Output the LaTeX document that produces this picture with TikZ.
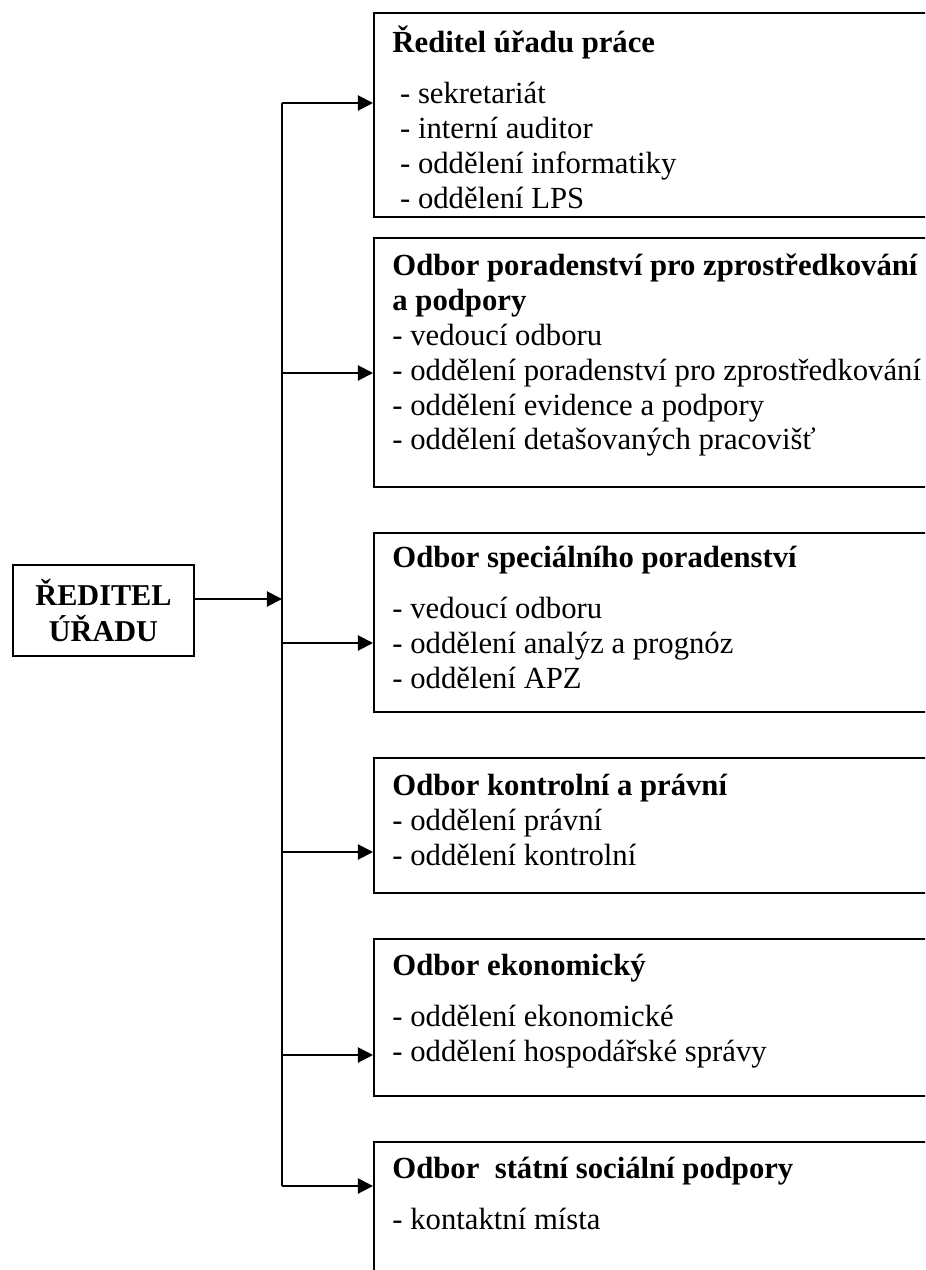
\documentclass[tikz,border=0pt]{standalone}
\usepackage{fontspec}
\setmainfont{Liberation Serif}
\usetikzlibrary{arrows.meta, positioning}

\newcommand{\pxu}{0.43pt}

\tikzset{
    frame/.style={
        rectangle, draw=black, line width=0.85pt, inner sep=0pt, minimum width=600*\pxu, anchor=north west
    },
    boxtext/.style={
        anchor=north west, align=left, inner sep=0pt, font=\fontsize{13.2pt}{15pt}\selectfont
    },
    arrow/.style={
        line width=0.85pt, ->
    },
    trunk/.style={
        line width=0.85pt
    }
}

\begin{document}
\begin{tikzpicture}[x=\pxu, y=-\pxu, >={Triangle[length=6.5pt, width=6.5pt]}]

    \clip (0,0) rectangle (925,1270);

    % Director (left)
    \node[frame, minimum width=181*\pxu, minimum height=91*\pxu, align=center, font=\bfseries\fontsize{13pt}{15.5pt}\selectfont] (reditel) at (12,564) {ŘEDITEL\\ÚŘADU};

    % Boxes of the departments
    \node[frame, minimum height=204*\pxu] (urad) at (373,12) {};
    \node[frame, minimum height=249*\pxu] (zprostr) at (373,237) {};
    \node[frame, minimum height=179*\pxu] (special) at (373,532) {};
    \node[frame, minimum height=135*\pxu] (kontrol) at (373,757) {};
    \node[frame, minimum height=157*\pxu] (ekonom) at (373,938) {};
    \node[frame, minimum height=220*\pxu] (davky) at (373,1141) {};

    % Texts
    \node[boxtext] (uradtext) at (392,25.6) {\textbf{\strut Ředitel úřadu práce}\\[7pt]
        \ - sekretariát\\ \ - interní auditor\\ \ - oddělení informatiky\\ \ - oddělení LPS};
    \node[boxtext] (zprostrtext) at (392,250.6) {\textbf{\strut Odbor poradenství pro zprostředkování}\\\textbf{a podpory}\\
        - vedoucí odboru\\ - oddělení poradenství pro zprostředkování\\ - oddělení evidence a podpory\\ - oddělení detašovaných pracovišť};
    \node[boxtext] (specialtext) at (392,542.6) {\textbf{\strut Odbor speciálního poradenství}\\[7pt]
        - vedoucí odboru\\ - oddělení analýz a prognóz\\ - oddělení APZ};
    \node[boxtext] (kontroltext) at (392,770.6) {\textbf{\strut Odbor kontrolní a právní}\\
        - oddělení právní\\ - oddělení kontrolní};
    \node[boxtext] (ekonomtext) at (392,950.6) {\textbf{\strut Odbor ekonomický}\\[7pt]
        - oddělení ekonomické\\ - oddělení hospodářské správy};
    \node[boxtext] (davkytext) at (392,1153.6) {\textbf{\strut Odbor\ \ státní sociální podpory}\\[7pt]
        - kontaktní místa};

    % Junctions on the trunk
    \coordinate (j1) at (282,103);
    \coordinate (j2) at (282,373);
    \coordinate (jd) at (282,599);
    \coordinate (j3) at (282,643);
    \coordinate (j4) at (282,852);
    \coordinate (j5) at (282,1055);
    \coordinate (j6) at (282,1186);

    % Connections
    \draw[trunk] (j1) -- (j6);
    \draw[arrow] (reditel.east |- jd) -- (jd);
    \draw[arrow] (j1) -- (j1 -| urad.west);
    \draw[arrow] (j2) -- (j2 -| zprostr.west);
    \draw[arrow] (j3) -- (j3 -| special.west);
    \draw[arrow] (j4) -- (j4 -| kontrol.west);
    \draw[arrow] (j5) -- (j5 -| ekonom.west);
    \draw[arrow] (j6) -- (j6 -| davky.west);

\end{tikzpicture}
\end{document}
